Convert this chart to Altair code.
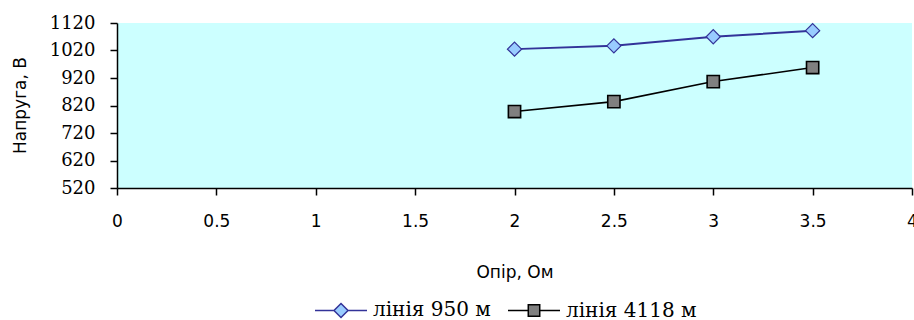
import altair as alt
import pandas as pd

# ---- data ----
series_names = ["лінія 950 м", "лінія 4118 м"]
resistance = [2, 2.5, 3, 3.5]
voltage_950 = [1025, 1037, 1070, 1092]
voltage_4118 = [798, 834, 907, 958]

y_ticks = [520, 620, 720, 820, 920, 1020, 1120]
x_ticks = [0, 0.5, 1, 1.5, 2, 2.5, 3, 3.5, 4]

rows = []
for r, v in zip(resistance, voltage_950):
    rows.append({"r": r, "v": v, "series": series_names[0]})
for r, v in zip(resistance, voltage_4118):
    rows.append({"r": r, "v": v, "series": series_names[1]})
df = pd.DataFrame(rows)

line_colors = ["#333399", "#000000"]
fill_colors = ["#99CCFF", "#808080"]
legend_shapes = [
    "M-1,0L-0.27,0M0.27,0L1,0M0,-0.27L0.27,0L0,0.27L-0.27,0Z",
    "M-1,0L-0.22,0M0.22,0L1,0M-0.22,-0.22L0.22,-0.22L0.22,0.22L-0.22,0.22Z",
]

axis_common = dict(
    grid=False, tickSize=7, domainColor="black", domainWidth=1.5,
    tickColor="black", tickWidth=1.5, labelColor="black", titleColor="black",
    titleFont="DejaVu Sans", titleFontSize=17, titleFontWeight="normal",
)

x_enc = alt.X(
    "r:Q",
    scale=alt.Scale(domain=[0, 4], nice=False, zero=False),
    axis=alt.Axis(
        values=x_ticks, format="~g", title="Опір, Ом", labelFlush=False,
        labelPadding=18, labelFont="DejaVu Sans", labelFontSize=17,
        titleY=84, titleBaseline="middle", **axis_common,
    ),
)
y_enc = alt.Y(
    "v:Q",
    scale=alt.Scale(domain=[520, 1120], nice=False, zero=False),
    axis=alt.Axis(
        values=y_ticks, format="d", title="Напруга, В",
        labelPadding=15, labelFont="DejaVu Serif", labelFontSize=18,
        titleX=-97, titleY=82, titleAngle=270, titleBaseline="middle", titleAlign="center",
        **axis_common,
    ),
)

stroke_scale = alt.Scale(domain=series_names, range=line_colors)
fill_scale = alt.Scale(domain=series_names, range=fill_colors)
shape_scale = alt.Scale(domain=series_names, range=legend_shapes)

is_first = alt.datum.series == series_names[0]

lines = alt.Chart(df).mark_line().encode(
    x=x_enc,
    y=y_enc,
    stroke=alt.condition(is_first, alt.value(line_colors[0]), alt.value(line_colors[1])),
    strokeWidth=alt.condition(is_first, alt.value(2), alt.value(1.6)),
    detail="series:N",
)

points = alt.Chart(df).mark_point(filled=True, opacity=1).encode(
    x=x_enc,
    y=y_enc,
    fill=alt.condition(is_first, alt.value(fill_colors[0]), alt.value(fill_colors[1])),
    stroke=alt.condition(is_first, alt.value(line_colors[0]), alt.value(line_colors[1])),
    shape=alt.condition(is_first, alt.value("diamond"), alt.value("square")),
    size=alt.condition(is_first, alt.value(200), alt.value(150)),
    strokeWidth=alt.condition(is_first, alt.value(1.2), alt.value(1.6)),
)

legend_def = alt.Legend(
    title=None, orient="none", legendX=197, legendY=260, direction="horizontal",
    labelFont="DejaVu Serif", labelFontSize=20, labelColor="black",
    symbolSize=2704, symbolStrokeWidth=1.5, labelOffset=5, columnPadding=14,
    padding=0, symbolOpacity=1,
)

legend_layer = alt.Chart(df).mark_point(
    filled=True, opacity=0, size=2704, strokeWidth=1.5
).encode(
    shape=alt.Shape("series:N", scale=shape_scale, legend=legend_def),
    fill=alt.Fill("series:N", scale=fill_scale, legend=legend_def),
    stroke=alt.Stroke("series:N", scale=stroke_scale, legend=legend_def),
)

chart = (
    alt.layer(lines, points, legend_layer)
    .properties(
        width=795,
        height=165,
        autosize=alt.AutoSizeParams(type="none"),
        padding={"left": 117, "top": 23, "right": 2, "bottom": 132},
        background="white",
        view=alt.ViewBackground(fill="#CCFFFF", strokeWidth=0),
    )
)

chart.save("out.html", embed_options={"renderer": "svg", "actions": False})
